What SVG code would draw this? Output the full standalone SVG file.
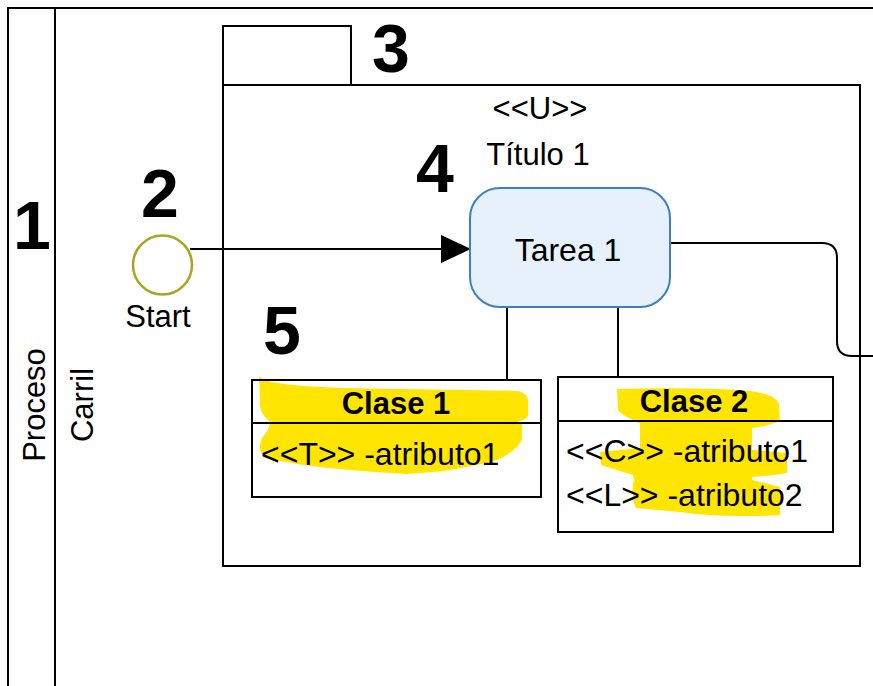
<svg xmlns="http://www.w3.org/2000/svg" width="873" height="686" viewBox="0 0 873 686">
<style>
.ln{fill:none;stroke:#000;stroke-width:2}
.t{font-family:"Liberation Sans",Arial,sans-serif;font-size:31px;fill:#000}
.a{font-size:32px}
.b{font-weight:bold}
.num{font-family:"Liberation Sans",Arial,sans-serif;font-size:68px;font-weight:bold;fill:#000;text-anchor:middle}
.hl{fill:#ffe500;stroke:none}
</style>
<defs>
<marker id="arr" viewBox="0 0 30 28" refX="29" refY="14" markerWidth="30" markerHeight="28" markerUnits="userSpaceOnUse" orient="auto">
<path d="M0,0 L30,14 L0,28 Z" fill="#000"/>
</marker>
</defs>
<rect width="873" height="686" fill="#fff"/>
<g id="pool">
<path class="ln" d="M8,686 V8 H873"/>
<path class="ln" d="M55,8 V686"/>
<text class="t" transform="translate(45,405) rotate(-90)" text-anchor="middle">Proceso</text>
<text class="t" transform="translate(93,405) rotate(-90)" text-anchor="middle">Carril</text>
</g>
<g id="package">
<rect class="ln" x="223" y="26" width="128" height="59"/>
<rect class="ln" x="223" y="85" width="637" height="481"/>
<text class="t" x="540" y="119" text-anchor="middle">&lt;&lt;U&gt;&gt;</text>
<text class="t" x="538" y="165" text-anchor="middle">Título 1</text>
</g>
<g id="connectors">
<path class="ln" d="M190,249 H470" marker-end="url(#arr)"/>
<path class="ln" d="M670,243 H822 Q837,243 837,258 V341 Q837,356 852,356 H873"/>
<path class="ln" d="M507,307 V380"/>
<path class="ln" d="M618,307 V377"/>
</g>
<g id="start">
<circle cx="162.5" cy="265" r="29.5" fill="#fff" stroke="#a8a520" stroke-width="2.5"/>
<text class="t" x="158" y="327" text-anchor="middle">Start</text>
</g>
<g id="task">
<rect x="470" y="188" width="200" height="119" rx="30" ry="30" fill="#e7f1fc" stroke="#3d7fc0" stroke-width="2"/>
<text class="t a" x="568" y="261" text-anchor="middle">Tarea 1</text>
</g>
<g id="clase1">
<path class="hl" d="M259,376 C264,384 300,386 340,388 L518,391 Q530,394 528,405 L528,416 Q524,421 518,421 L522,424 L522,440 Q515,452 497,460 Q455,472 407,474 Q350,471 303,465 L264,458 Q257,448 262,438 L268,430 L270,422 Q258,412 260,400 Z"/>
<rect class="ln" x="252" y="380" width="289" height="117"/>
<path class="ln" d="M252,423 H541"/>
<text class="t b" x="396" y="414" text-anchor="middle">Clase 1</text>
<text class="t a" x="261" y="465">&lt;&lt;T&gt;&gt; -atributo1</text>
</g>
<g id="clase2">
<path class="hl" d="M617,389 Q700,387 750,391 Q778,395 779,405 L780,421 Q765,427 752,428 L752,450 L787,453 L787,473 Q770,476 752,477 L752,480 L780,487 L780,515 Q720,518 680,512 L636,508 Q630,495 634,479 L633,475 Q610,468 601,465 L600,452 L640,448 L640,423 Q622,416 618,410 Z"/>
<rect class="ln" x="558" y="377" width="275" height="155"/>
<path class="ln" d="M558,421 H833"/>
<text class="t b" x="694" y="412" text-anchor="middle">Clase 2</text>
<text class="t a" x="566" y="462">&lt;&lt;C&gt;&gt; -atributo1</text>
<text class="t a" x="566" y="506">&lt;&lt;L&gt;&gt; -atributo2</text>
</g>
<g id="labels">
<text class="num" x="32" y="249">1</text>
<text class="num" x="160" y="217">2</text>
<text class="num" x="391" y="72">3</text>
<text class="num" x="435" y="192">4</text>
<text class="num" x="282" y="354">5</text>
</g>
</svg>
